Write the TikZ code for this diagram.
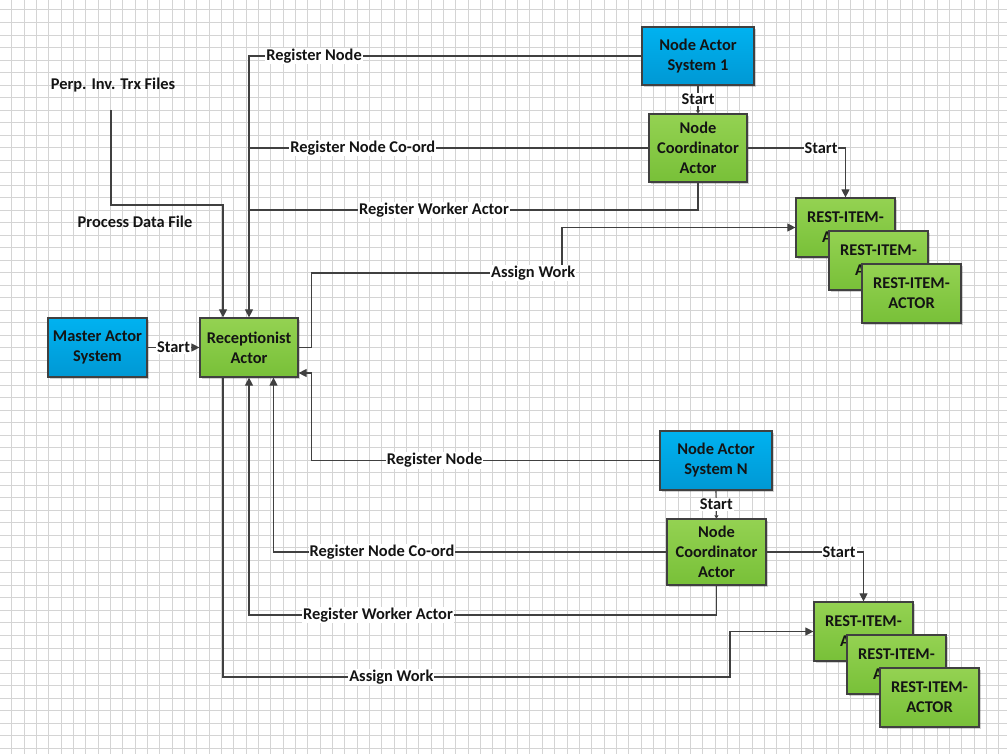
\documentclass[tikz,border=0pt]{standalone}
\usepackage{fontspec}
\setmainfont{Carlito}
\usetikzlibrary{arrows.meta,shadows}
\definecolor{gridc}{RGB}{212,212,212}
\definecolor{linec}{RGB}{64,64,64}
\definecolor{txtc}{RGB}{20,20,20}
\definecolor{blueT}{RGB}{0,178,240}
\definecolor{blueB}{RGB}{0,152,212}
\definecolor{greenT}{RGB}{148,210,82}
\definecolor{greenB}{RGB}{120,192,56}
\tikzset{
  gridln/.style={draw=gridc,line width=1pt},
  txt/.style={font=\fontsize{16.4}{20}\selectfont\bfseries,text=txtc},
  box/.style={txt,draw=linec,line width=1.2pt,rectangle,inner sep=0pt,align=center,
    drop shadow={shadow xshift=2pt,shadow yshift=-2pt,fill=black,opacity=0.18}},
  bluebox/.style={box,top color=blueT,bottom color=blueB},
  greenbox/.style={box,top color=greenT,bottom color=greenB},
  conn/.style={draw=linec,line width=1.1pt},
  arr/.style={conn,-{Triangle[length=8pt,width=8pt]}},
  tinyarr/.style={conn,-{Triangle[length=3pt,width=4pt]}},
  lbl/.style={txt,fill=white,inner sep=1pt},
}
\begin{document}
\begin{tikzpicture}[x=1pt,y=-1pt]
\useasboundingbox (0,0) rectangle (1007,754);
\fill[white] (0,0) rectangle (1007,754);
\foreach \i in {0,...,80} \draw[gridln] ({11.7+12.34*\i},0) -- ++(0,754);
\foreach \j in {0,...,59} \draw[gridln] (0,{10+12.51*\j}) -- ++(1007,0);

% nodes
\node[bluebox,minimum width=99pt,minimum height=59pt] (mas) at (97.5,347.5) {Master Actor\\System};
\node[greenbox,minimum width=98pt,minimum height=59pt] (rec) at (249,347.5) {Receptionist\\Actor};
\node[bluebox,minimum width=112pt,minimum height=58pt] (nas1) at (698,56) {Node Actor\\System 1};
\node[greenbox,minimum width=98pt,minimum height=68pt] (nca1) at (698,148) {Node\\Coordinator\\Actor};
\node[greenbox,minimum width=99pt,minimum height=59pt] (r1a) at (845.5,227.5) {REST-ITEM-\\A\phantom{CTOR}};
\node[greenbox,minimum width=99pt,minimum height=59pt] (r1b) at (878.5,260.5) {REST-ITEM-\\A\phantom{CTOR}};
\node[greenbox,minimum width=99pt,minimum height=59pt] (r1c) at (911.5,293.5) {REST-ITEM-\\ACTOR};
\node[bluebox,minimum width=112pt,minimum height=59pt] (nasN) at (716,460.5) {Node Actor\\System N};
\node[greenbox,minimum width=99pt,minimum height=66pt] (ncaN) at (716.5,552) {Node\\Coordinator\\Actor};
\node[greenbox,minimum width=99pt,minimum height=59pt] (rNa) at (863.5,631.5) {REST-ITEM-\\A\phantom{CTOR}};
\node[greenbox,minimum width=99pt,minimum height=59pt] (rNb) at (896.5,664.5) {REST-ITEM-\\A\phantom{CTOR}};
\node[greenbox,minimum width=99pt,minimum height=59pt] (rNc) at (929.5,697.5) {REST-ITEM-\\ACTOR};

\node[txt] (perp) at (113,85) {Perp. Inv. Trx Files};
\coordinate (perpEnd) at (111,110);

% connectors
\draw[arr] (mas.east) -- (rec.west) node[lbl,midway] {Start};
\draw[arr] (perpEnd) |- (223,205) -- ([xshift=-26pt]rec.north);
\node[txt] (pdf) at (135,222) {Process Data File};

\draw[arr] (nas1.west) -| (rec.north) node[lbl,pos=0.417] {Register Node};
\draw[conn] (nca1.west) -- (249,148) node[lbl,pos=0.715] {Register Node Co-ord};
\draw[conn] (nca1.south) |- (249,210) node[lbl,pos=0.794] {Register Worker Actor};
\draw[arr] (rec.east) -- (311.5,347.5) -- (311.5,273) -- node[lbl,pos=0.885] {Assign Work} (562,273) -- (562,227.5) -- (r1a.west);
\draw[tinyarr] (nas1.south) -- (nca1.north) node[lbl,midway] {Start};
\draw[arr] (nca1.east) -| (r1a.north) node[lbl,pos=0.375] {Start};

\draw[arr] (nasN.west) -| (311.5,373) node[lbl,pos=0.323] {Register Node} -- ([yshift=-25.5pt]rec.east);
\draw[arr] (ncaN.west) -| ([xshift=24.5pt]rec.south) node[lbl,pos=0.362] {Register Node Co-ord};
\draw[arr] (ncaN.south) |- (249,615) node[lbl,pos=0.862] {Register Worker Actor} -- (rec.south);
\draw[arr] ([xshift=-26pt]rec.south) -- (223,677) -- node[lbl,pos=0.332] {Assign Work} (730,677) -- (730,631.5) -- (rNa.west);
\draw[tinyarr] (nasN.south) -- (ncaN.north) node[lbl,midway] {Start};
\draw[arr] (ncaN.east) -| (rNa.north) node[lbl,pos=0.374] {Start};
\end{tikzpicture}
\end{document}
